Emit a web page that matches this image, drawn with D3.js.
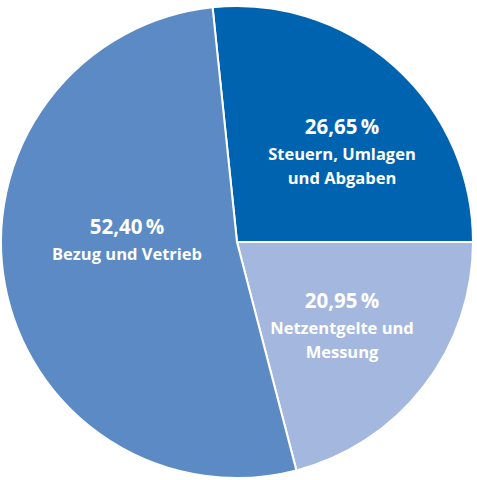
<!DOCTYPE html>
<html>
<head>
<meta charset="utf-8">
<script src="https://cdn.jsdelivr.net/npm/d3@7"></script>
<style>
  body { margin: 0; background: #fff; }
  text { font-family: "Open Sans", sans-serif; font-weight: 700; fill: #fff; }
</style>
</head>
<body>
<div id="chart"></div>
<script>
const names = ["Steuern, Umlagen und Abgaben", "Netzentgelte und Messung", "Bezug und Vetrieb"];
const values = [26.65, 20.95, 52.40];
const labelLines = [["Steuern, Umlagen", "und Abgaben"], ["Netzentgelte und", "Messung"], ["Bezug und Vetrieb"]];
const colors = ["#0063af", "#a4b8df", "#5b8ac5"];

const width = 477, height = 480;
const cx = 237, cy = 242, radius = 236;

const svg = d3.select("#chart").append("svg")
  .attr("width", width)
  .attr("height", height);

const g = svg.append("g").attr("transform", `translate(${cx},${cy})`);

// first slice ends exactly at 3 o'clock
const start = Math.PI / 2 - values[0] / 100 * 2 * Math.PI;
const pie = d3.pie().sort(null).value(d => d)
  .startAngle(start).endAngle(start + 2 * Math.PI);
const arcs = pie(values);

const arc = d3.arc().innerRadius(0).outerRadius(radius);

g.selectAll("path")
  .data(arcs)
  .join("path")
  .attr("d", arc)
  .attr("fill", (d, i) => colors[i])
  .attr("stroke", "#fff")
  .attr("stroke-width", 2);

// label anchors (baseline of the percentage line), relative to pie centre
const labelAt = [[105, -108], [105, 66], [-110, -8]];
const fmt = v => d3.format(".2f")(v).replace(".", ",") + "\u2009%";

const labels = g.selectAll("g.lbl")
  .data(arcs)
  .join("g")
  .attr("class", "lbl")
  .attr("transform", (d, i) => `translate(${labelAt[i][0]},${labelAt[i][1]})`);

labels.append("text")
  .attr("text-anchor", "middle")
  .attr("font-size", 20.5)
  .text(d => fmt(d.data));

labels.each(function(d, i) {
  d3.select(this).selectAll("text.line")
    .data(labelLines[i])
    .join("text")
    .attr("class", "line")
    .attr("text-anchor", "middle")
    .attr("font-size", 16.5)
    .attr("y", (t, j) => 26 + j * 24)
    .text(t => t);
});
</script>
</body>
</html>
